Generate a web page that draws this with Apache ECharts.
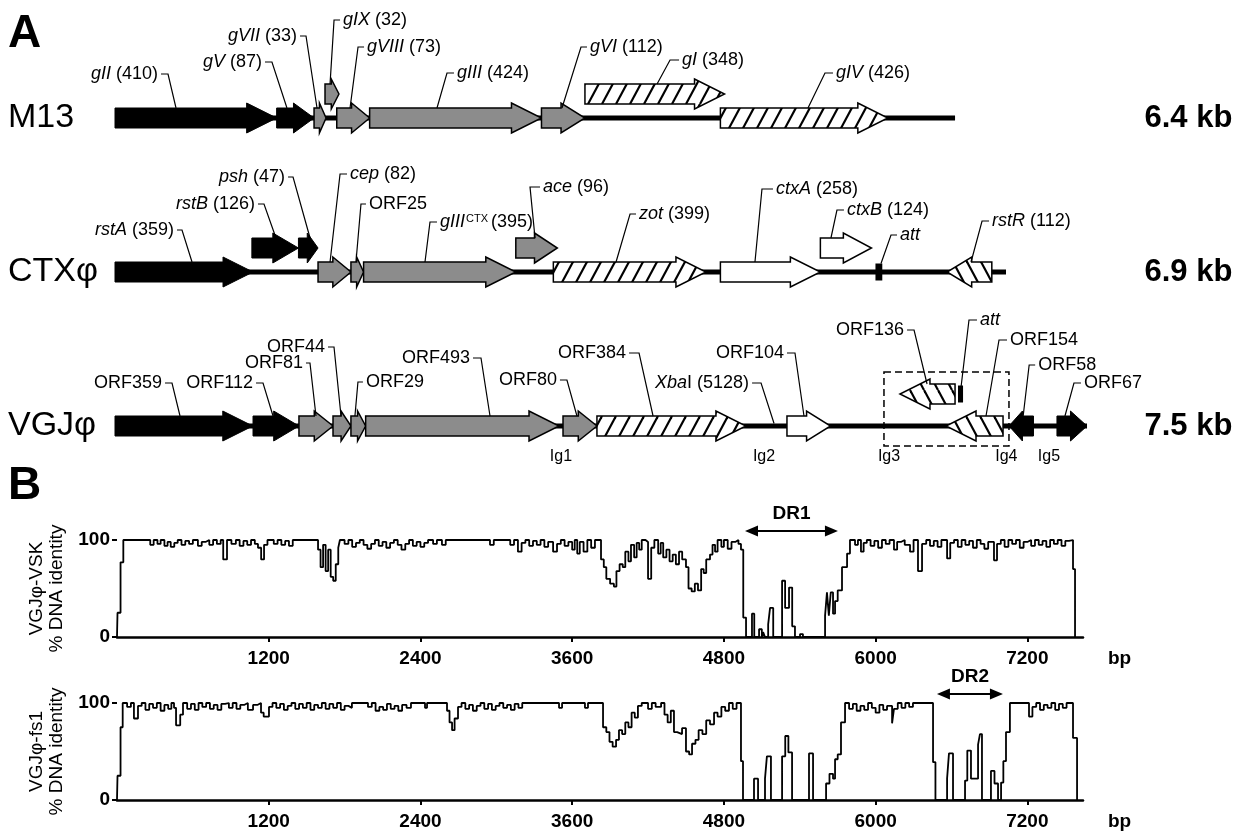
<!DOCTYPE html>
<html><head><meta charset="utf-8">
<script src="https://cdn.jsdelivr.net/npm/echarts@6/dist/echarts.min.js"></script>
<style>html,body{margin:0;padding:0;background:#fff}#c{width:1239px;height:835px}</style>
</head><body><div id="c"></div>
<script>
// ---------------- DATA ----------------
const tracks = ['M13', 'CTXφ', 'VGJφ'];
const trackSizes = ['6.4 kb', '6.9 kb', '7.5 kb'];
const backboneEnds = [6512, 6907, 7535];

// [name, startBp, endBp, strand, kind, lane(0 main / 1 raised)]
const m13Genes = [
  ['gII', 0, 1253, 1, 'black', 0],
  ['gV', 1253, 1543, 1, 'black', 0],
  ['gVII', 1543, 1636, 1, 'gray', 0],
  ['gIX', 1628, 1736, 1, 'gray', 1],
  ['gVIII', 1719, 1974, 1, 'gray', 0],
  ['gIII', 1974, 3306, 1, 'gray', 0],
  ['gVI', 3306, 3643, 1, 'gray', 0],
  ['gI', 3643, 4725, 1, 'hatch', 1],
  ['gIV', 4693, 5991, 1, 'hatch', 0]
];
const ctxGenes = [
  ['rstA', 0, 1070, 1, 'black', 0],
  ['rstB', 1061, 1422, 1, 'black', 1],
  ['psh', 1422, 1574, 1, 'black', 1],
  ['cep', 1574, 1829, 1, 'gray', 0],
  ['ORF25', 1829, 1927, 1, 'gray', 0],
  ['gIIICTX', 1927, 3107, 1, 'gray', 0],
  ['ace', 3107, 3429, 1, 'gray', 1],
  ['zot', 3398, 4581, 1, 'hatch', 0],
  ['ctxA', 4693, 5468, 1, 'white', 0],
  ['ctxB', 5468, 5864, 1, 'white', 1],
  ['att', 5895, 5948, 0, 'site', 0],
  ['rstR', 6450, 6797, -1, 'hatch', 0]
];
const vgjGenes = [
  ['ORF359', 0, 1068, 1, 'black', 0],
  ['ORF112', 1070, 1426, 1, 'black', 0],
  ['ORF81', 1426, 1690, 1, 'gray', 0],
  ['ORF44', 1690, 1829, 1, 'gray', 0],
  ['ORF29', 1829, 1943, 1, 'gray', 0],
  ['ORF493', 1943, 3442, 1, 'gray', 0],
  ['ORF80', 3473, 3736, 1, 'gray', 0],
  ['ORF384', 3736, 4891, 1, 'hatch', 0],
  ['ORF104', 5209, 5547, 1, 'white', 0],
  ['ORF136', 6085, 6512, -1, 'hatch', 1],
  ['att', 6535, 6574, 0, 'site', 1],
  ['ORF154', 6442, 6884, -1, 'hatch', 0],
  ['ORF58', 6930, 7120, -1, 'black', 0],
  ['ORF67', 7302, 7535, 1, 'black', 0]
];

// [label text, target bp, target type: g gene, r raised gene, l line, s site, rs raised site]
const m13Labels = [
  ['{i|gII} (410)', 473, 'g'], ['{i|gV} (87)', 1333, 'g'], ['{i|gVII} (33)', 1566, 'g'],
  ['{i|gIX} (32)', 1667, 'r'], ['{i|gVIII} (73)', 1822, 'g'], ['{i|gIII} (424)', 2496, 'g'],
  ['{i|gVI} (112)', 3465, 'g'], ['{i|gI} (348)', 4202, 'r'], ['{i|gIV} (426)', 5372, 'g']
];
const ctxLabels = [
  ['{i|rstA} (359)', 597, 'g'], ['{i|rstB} (126)', 1248, 'r'], ['{i|psh} (47)', 1512, 'r'],
  ['{i|cep} (82)', 1667, 'g'], ['ORF25', 1868, 'g'], ['{i|gIII}{sup|CTX}(395)', 2403, 'g'],
  ['{i|ace} (96)', 3256, 'r'], ['{i|zot} (399)', 3884, 'g'], ['{i|ctxA} (258)', 4961, 'g'],
  ['{i|ctxB} (124)', 5550, 'r'], ['{i|att}', 5938, 's'], ['{i|rstR} (112)', 6636, 'g']
];
const vgjLabels = [
  ['ORF359', 504, 'g'], ['ORF112', 1225, 'g'], ['ORF81', 1558, 'g'], ['ORF44', 1752, 'g'],
  ['ORF29', 1860, 'g'], ['ORF493', 2907, 'g'], ['ORF80', 3581, 'g'], ['ORF384', 4171, 'g'],
  ['{i|Xba}I (5128)', 5109, 'l'], ['ORF104', 5341, 'g'], ['ORF136', 6295, 'r'],
  ['{i|att}', 6558, 'rs'], ['ORF154', 6752, 'g'], ['ORF58', 7040, 'g'], ['ORF67', 7364, 'g']
];
const vgjIntergenic = [['Ig1', 3457], ['Ig2', 5031], ['Ig3', 6000], ['Ig4', 6910], ['Ig5', 7240]];
const vgjBoxBp = [5961, 6930];

const bpTicks = [1200, 2400, 3600, 4800, 6000, 7200];

// [bp, % identity] (step plot, value holds until next point)
const vskIdentity = [
  [0,0],[4,25],[28,77],[50,100],
  [263,95],[290,100],[320,96],[345,100],[375,94],[400,98],[425,93],[453,97],[480,100],[510,95],[540,99],[570,96],[600,100],[640,94],[670,98],[700,100],[730,95],[760,100],[790,96],[820,100],[840,80],[870,100],[905,96],[940,100],[970,94],[1000,99],[1030,95],[1060,100],[1090,96],[1115,92],[1140,80],[1163,95],[1190,100],[1240,96],[1270,100],[1300,95],[1330,99],[1360,94],[1390,100],
  [1590,90],[1610,72],[1630,95],[1650,68],[1670,90],[1690,62],[1710,58],[1730,75],[1750,92],[1763,100],
  [1800,96],[1830,100],[1860,93],[1890,97],[1920,100],[1950,95],[1980,91],[2010,96],[2040,100],[2070,94],[2100,98],[2130,92],[2160,97],[2190,100],[2220,95],[2250,90],[2280,96],[2310,100],[2340,94],[2370,98],[2400,93],[2430,97],[2460,100],[2500,96],[2530,100],[2570,95],[2600,100],
  [2950,95],[2980,100],
  [3110,95],[3140,100],[3171,88],[3200,97],[3230,100],[3260,94],[3290,99],[3320,95],[3350,100],[3380,93],[3410,98],[3449,88],[3480,96],[3510,100],[3540,94],[3570,98],[3600,90],[3620,100],[3640,86],[3660,98],[3690,88],[3720,100],[3750,92],[3780,100],[3828,80],
  [3850,72],[3870,60],[3900,55],[3930,52],[3950,68],[3975,75],[4000,72],[4020,88],[4045,78],[4065,95],[4090,82],[4110,97],[4130,90],[4150,100],[4180,98],[4200,60],[4225,92],[4250,100],[4280,86],[4300,97],[4320,82],[4345,90],[4370,78],[4395,85],[4420,75],[4445,88],[4470,80],[4500,72],[4520,50],[4545,47],[4570,55],[4595,48],[4620,70],[4640,66],[4660,80],[4690,85],[4710,95],[4730,88],[4750,100],[4780,93],[4800,100],[4830,91],[4860,98],[4890,100],[4915,96],[4935,90],
  [4953,20],[4975,0],[5022,24],[5040,0],[5078,8],[5100,0],[5110,5],[5125,0],[5150,13],[5165,30],[5190,0],[5260,58],[5284,30],[5315,51],[5340,11],[5362,0],[5402,3],[5425,0],[5600,22],[5615,46],[5630,22],[5645,46],[5663,24],[5679,37],[5700,48],[5734,72],[5774,86],[5797,100],
  [5837,95],[5860,100],[5884,88],[5905,97],[5930,100],[5960,94],[5990,99],[6020,92],[6050,100],[6080,96],[6110,100],[6145,90],[6170,98],[6200,100],[6230,95],[6272,88],[6300,100],[6335,68],[6367,96],[6400,100],[6430,94],[6460,99],[6490,93],[6520,100],[6565,81],[6590,97],[6620,100],[6650,93],[6680,100],[6710,95],[6740,99],[6770,92],[6800,100],[6830,96],[6860,91],[6890,98],[6936,79],[6960,96],[6990,100],[7020,93],[7050,100],[7080,96],[7110,100],[7140,92],[7170,98],[7200,100],[7230,94],[7260,100],[7290,95],[7320,99],[7350,93],[7380,100],[7410,96],[7440,100],[7470,94],[7500,99],[7530,100],[7561,70],[7577,0]
];
const fs1Identity = [
  [0,0],[4,25],[28,75],[45,100],[80,96],[110,100],[134,84],[166,97],[195,100],[225,93],[255,99],[285,95],[315,100],[345,92],[375,98],[405,94],[430,100],[451,95],[467,77],[500,88],[522,100],[555,94],[585,99],[615,93],[645,100],[675,96],[705,100],[735,94],[765,98],[795,93],[825,99],[855,100],[885,95],[915,100],[945,94],[975,98],[1005,100],[1035,93],[1076,98],[1110,100],[1139,90],[1160,86],[1202,96],[1230,100],[1260,95],[1290,99],[1320,93],[1350,97],[1380,100],[1410,94],[1440,99],[1470,95],[1500,100],[1530,93],[1560,98],[1590,95],[1620,100],[1650,94],[1680,99],[1710,95],[1740,100],[1770,93],[1800,97],[1830,95],[1858,100],
  [1985,96],[2015,100],[2045,92],[2075,96],[2105,93],[2135,99],[2165,94],[2195,97],[2225,92],[2255,98],[2290,95],[2325,100],[2436,95],[2452,100],
  [2610,92],[2630,80],[2650,72],[2670,84],[2697,96],[2725,100],[2755,94],[2785,98],[2815,92],[2845,97],[2875,100],[2905,94],[2935,99],[2965,93],[2995,97],[3025,100],[3055,95],[3085,98],[3115,93],[3145,99],[3175,95],[3205,100],[3496,95],[3520,100],[3701,95],[3725,100],
  [3844,75],[3870,70],[3895,60],[3920,55],[3947,62],[3970,72],[3995,68],[4020,80],[4045,75],[4070,90],[4095,85],[4120,97],[4150,100],[4200,94],[4230,100],[4260,96],[4303,100],[4330,88],[4355,80],[4380,92],[4405,70],[4430,68],[4469,74],[4500,50],[4525,47],[4548,58],[4575,62],[4600,72],[4630,68],[4660,82],[4690,78],[4722,90],[4750,86],[4780,96],[4810,92],[4840,100],[4870,94],[4900,100],[4935,40],
  [4951,0],[5038,22],[5070,0],[5125,22],[5140,45],[5172,0],[5260,45],[5285,66],[5310,49],[5339,0],[5473,48],[5505,0],[5608,17],[5635,27],[5663,22],[5679,42],[5700,47],[5726,80],
  [5758,100],[5790,94],[5820,99],[5850,92],[5880,97],[5910,93],[5940,100],[5970,95],[6000,90],[6030,98],[6060,93],[6090,97],[6130,79],[6145,94],[6175,100],[6205,95],[6235,100],[6265,96],[6295,100],
  [6454,39],[6473,0],[6565,22],[6580,48],[6612,0],[6707,20],[6725,51],[6754,22],[6810,57],[6825,68],[6841,0],[6912,30],[6940,17],[6968,0],[6992,18],[7010,40],[7031,70],
  [7062,100],[7213,86],[7240,96],[7270,100],[7300,93],[7330,98],[7360,95],[7390,100],[7420,93],[7450,99],[7480,95],[7510,100],[7561,64],[7593,0]
];
const drRegions = [['DR1', 4967, 5702], ['DR2', 6485, 7007]];

// ---------------- LAYOUT / STYLE ----------------
const FONT = '"Liberation Sans", Arial, Helvetica, sans-serif';
const BODY_H = 20, HEAD_H = 30, HEAD_MAX = 30, LINE_W = 5, SITE_H = 17;
const RAISE = [24, 24, 32];
// per label: [textDx, elbowDx, dy, side]  (px, relative to leader target and row centre)
const m13Layout = [[-18,-8,-44,'L'],[-25,-15,-56,'L'],[-20,-11,-82,'L'],[13,4,-98,'R'],[17,8,-71,'R'],[20,10,-45,'R'],[28,19,-71,'R'],[25,13,-58,'R'],[28,17,-45,'R']];
const ctxLayout = [[-18,-10,-42,'L'],[-21,-12,-68,'L'],[-25,-17,-95,'L'],[20,10,-98,'R'],[13,5,-68,'R'],[15,5,-50,'R'],[8,-5,-85,'R'],[23,14,-58,'R'],[21,7,-83,'R'],[16,6,-62,'R'],[19,10,-37,'R'],[21,11,-51,'R']];
const vgjLayout = [[-18,-8,-43,'L'],[-20,-10,-43,'L'],[-13,-6,-63,'L'],[-16,-7,-79,'L'],[11,3,-44,'R'],[-20,-9,-68,'L'],[-20,-10,-46,'L'],[-27,-14,-73,'L'],[-25,-13,-43,'L'],[-20,-9,-73,'L'],[-23,-13,-96,'L'],[19,8,-106,'R'],[24,13,-86,'R'],[15,6,-61,'R'],[19,9,-43,'R']];
const IG_DY = 31, BOX_TOP = -54, BOX_BOTTOM = 20;

function makeHatch(dir) {
  const w = 14, h = 26;
  const c = document.createElement('canvas'); c.width = w; c.height = h;
  const g = c.getContext('2d');
  g.fillStyle = '#fff'; g.fillRect(0, 0, w, h);
  g.strokeStyle = '#000'; g.lineWidth = 2.2;
  for (let k = -1; k <= 1; k++) {
    g.beginPath();
    if (dir > 0) { g.moveTo(k * w, h); g.lineTo(k * w + w, 0); }
    else { g.moveTo(k * w, 0); g.lineTo(k * w + w, h); }
    g.stroke();
  }
  return c;
}
const hatchR = { image: makeHatch(1), repeat: 'repeat' };
const hatchL = { image: makeHatch(-1), repeat: 'repeat' };

const geneSets = [m13Genes, ctxGenes, vgjGenes];
const labelSets = [m13Labels, ctxLabels, vgjLabels];
const layoutSets = [m13Layout, ctxLayout, vgjLayout];

const allGenes = [];
geneSets.forEach((set, row) => set.forEach(g => allGenes.push({ row, g })));
const allLabels = [];
labelSets.forEach((set, row) => set.forEach((l, i) => allLabels.push({ row, l, lay: layoutSets[row][i] })));

const RICH = {
  i: { fontStyle: 'italic', fontSize: 18, fontFamily: FONT, fill: '#000' },
  sup: { fontSize: 11, fontFamily: FONT, fill: '#000', verticalAlign: 'top', padding: [0, 3, 0, 1] }
};

function arrowPoints(x0, x1, y, dir) {
  const bh = BODY_H / 2, hh = HEAD_H / 2;
  const head = Math.min(HEAD_MAX, (x1 - x0) * 0.55);
  if (dir >= 0) {
    const xh = x1 - head;
    return [[x0, y - bh], [xh, y - bh], [xh, y - hh], [x1, y], [xh, y + hh], [xh, y + bh], [x0, y + bh]];
  }
  const xh = x0 + head;
  return [[x1, y - bh], [xh, y - bh], [xh, y - hh], [x0, y], [xh, y + hh], [xh, y + bh], [x1, y + bh]];
}

const chart = echarts.init(document.getElementById('c'), null, { renderer: 'canvas' });

const plotYAxis = (gi, nameText) => ({
  gridIndex: gi, type: 'value', min: 0, max: 100, interval: 100,
  axisLine: { show: false }, splitLine: { show: false },
  axisTick: { show: true, length: 5, lineStyle: { color: '#000', width: 2 } },
  axisLabel: { color: '#000', fontWeight: 'bold', fontSize: 19, fontFamily: FONT, margin: 7 },
  name: nameText, nameLocation: 'middle', nameRotate: 90, nameGap: 50,
  nameTextStyle: { color: '#000', fontSize: 19, fontFamily: FONT, lineHeight: 20 }
});
const plotXAxis = (gi) => ({
  gridIndex: gi, type: 'value', min: 0, max: 7640,
  axisLine: { show: true, lineStyle: { color: '#000', width: 2.5 } },
  axisTick: { show: true, length: 5, customValues: bpTicks, lineStyle: { color: '#000', width: 2 } },
  axisLabel: { customValues: bpTicks, formatter: v => String(v), color: '#000', fontWeight: 'bold', fontSize: 19, fontFamily: FONT, margin: 12 },
  splitLine: { show: false },
  name: 'bp', nameLocation: 'end', nameGap: 25,
  nameTextStyle: { color: '#000', fontWeight: 'bold', fontSize: 19, fontFamily: FONT, verticalAlign: 'top', padding: [12, 0, 0, 0] }
});

function drSeries(axisIdx, yIdx, idx) {
  return {
    type: 'custom', xAxisIndex: axisIdx, yAxisIndex: yIdx, clip: false, silent: true,
    data: [[drRegions[idx][1], 100, drRegions[idx][2]]],
    encode: { x: [0, 2], y: 1 },
    renderItem(params, api) {
      const a = api.coord([api.value(0), 100]);
      const b = api.coord([api.value(2), 100]);
      const y = a[1] - 9, hl = 13, hw = 5.5;
      return { type: 'group', children: [
        { type: 'line', shape: { x1: a[0] + hl - 1, y1: y, x2: b[0] - hl + 1, y2: y }, style: { stroke: '#000', lineWidth: 2 } },
        { type: 'polygon', shape: { points: [[a[0], y], [a[0] + hl, y - hw], [a[0] + hl, y + hw]] }, style: { fill: '#000' } },
        { type: 'polygon', shape: { points: [[b[0], y], [b[0] - hl, y - hw], [b[0] - hl, y + hw]] }, style: { fill: '#000' } },
        { type: 'text', style: { x: (a[0] + b[0]) / 2, y: y - 17, text: drRegions[idx][0], align: 'center', verticalAlign: 'middle', font: 'bold 19px ' + FONT, fill: '#000' } }
      ] };
    }
  };
}

const option = {
  animation: false,
  backgroundColor: '#fff',
  graphic: [
    { type: 'text', style: { x: 8, y: 34, text: 'A', font: 'bold 46px ' + FONT, fill: '#000', verticalAlign: 'middle' } },
    { type: 'text', style: { x: 8, y: 486, text: 'B', font: 'bold 46px ' + FONT, fill: '#000', verticalAlign: 'middle' } }
  ],
  grid: [
    { left: 115, top: 41, width: 980.4, height: 462 },
    { left: 117, top: 540, width: 966, height: 97 },
    { left: 117, top: 703, width: 966, height: 97 }
  ],
  xAxis: [
    { gridIndex: 0, type: 'value', min: 0, max: 7600, show: false },
    plotXAxis(1), plotXAxis(2)
  ],
  yAxis: [
    { gridIndex: 0, type: 'category', data: tracks, inverse: true,
      axisLine: { show: false }, axisTick: { show: false },
      axisLabel: { color: '#000', fontSize: 34, fontFamily: FONT, align: 'left', margin: 107 } },
    { gridIndex: 0, type: 'category', data: tracks, inverse: true, position: 'right',
      axisLine: { show: false }, axisTick: { show: false },
      axisLabel: { color: '#000', fontSize: 31, fontWeight: 'bold', fontFamily: FONT, align: 'right', margin: 137,
        formatter: (v, i) => trackSizes[i] } },
    plotYAxis(1, 'VGJφ-VSK\n% DNA identity'),
    plotYAxis(2, 'VGJφ-fs1\n% DNA identity')
  ],
  series: [
    { // backbones
      type: 'custom', xAxisIndex: 0, yAxisIndex: 0, clip: false, silent: true,
      data: backboneEnds.map((e, row) => [0, row, e]),
      encode: { x: [0, 2], y: 1 },
      renderItem(params, api) {
        const a = api.coord([api.value(0), api.value(1)]);
        const b = api.coord([api.value(2), api.value(1)]);
        return { type: 'rect', shape: { x: a[0], y: a[1] - LINE_W / 2, width: b[0] - a[0], height: LINE_W }, style: { fill: '#000' } };
      }
    },
    { // genes
      type: 'custom', xAxisIndex: 0, yAxisIndex: 0, clip: false, silent: true,
      data: allGenes.map(o => [o.g[1], o.row, o.g[2]]),
      encode: { x: [0, 2], y: 1 },
      renderItem(params, api) {
        const o = allGenes[params.dataIndex];
        const [name, s, e, strand, kind, lane] = o.g;
        const a = api.coord([s, o.row]);
        const b = api.coord([e, o.row]);
        const y = a[1] - (lane ? RAISE[o.row] : 0);
        if (kind === 'site') {
          return { type: 'rect', shape: { x: a[0], y: y - SITE_H / 2, width: b[0] - a[0], height: SITE_H }, style: { fill: '#000' } };
        }
        let fill = '#000';
        if (kind === 'gray') fill = '#8c8c8c';
        else if (kind === 'white') fill = '#fff';
        else if (kind === 'hatch') fill = strand < 0 ? hatchL : hatchR;
        return { type: 'polygon', shape: { points: arrowPoints(a[0], b[0], y, strand) },
          style: { fill, stroke: '#000', lineWidth: kind === 'black' ? 1 : 1.5, lineJoin: 'miter' } };
      }
    },
    { // dashed box around att region
      type: 'custom', xAxisIndex: 0, yAxisIndex: 0, clip: false, silent: true,
      data: [[vgjBoxBp[0], 2, vgjBoxBp[1]]],
      encode: { x: [0, 2], y: 1 },
      renderItem(params, api) {
        const a = api.coord([api.value(0), 2]);
        const b = api.coord([api.value(2), 2]);
        return { type: 'rect', shape: { x: a[0], y: a[1] + BOX_TOP, width: b[0] - a[0], height: BOX_BOTTOM - BOX_TOP },
          style: { fill: null, stroke: '#000', lineWidth: 1.5, lineDash: [7, 4] } };
      }
    },
    { // labels with leaders
      type: 'custom', xAxisIndex: 0, yAxisIndex: 0, clip: false, silent: true,
      data: allLabels.map(o => [o.l[1], o.row]),
      encode: { x: 0, y: 1 },
      renderItem(params, api) {
        const o = allLabels[params.dataIndex];
        const p = api.coord([o.l[1], o.row]);
        const rowY = p[1], tx = p[0];
        const t = o.l[2];
        let topY = rowY - BODY_H / 2;
        if (t === 'r') topY = rowY - RAISE[o.row] - BODY_H / 2;
        else if (t === 'l') topY = rowY - LINE_W / 2;
        else if (t === 's') topY = rowY - SITE_H / 2;
        else if (t === 'rs') topY = rowY - RAISE[o.row] - SITE_H / 2 + 2;
        const [tdx, edx, dy, side] = o.lay;
        const ty = rowY + dy, textX = tx + tdx, ex = tx + edx;
        const stub = side === 'L' ? textX + 3 : textX - 3;
        return { type: 'group', children: [
          { type: 'polyline', shape: { points: [[stub, ty], [ex, ty], [tx, topY]] }, style: { stroke: '#000', lineWidth: 1.2, fill: null } },
          { type: 'text', style: { x: textX, y: ty, text: o.l[0], align: side === 'L' ? 'right' : 'left', verticalAlign: 'middle',
            fontSize: 18, fontFamily: FONT, fill: '#000', rich: RICH } }
        ] };
      }
    },
    { // intergenic labels
      type: 'custom', xAxisIndex: 0, yAxisIndex: 0, clip: false, silent: true,
      data: vgjIntergenic.map(d => [d[1], 2]),
      encode: { x: 0, y: 1 },
      renderItem(params, api) {
        const p = api.coord([api.value(0), 2]);
        return { type: 'text', style: { x: p[0], y: p[1] + IG_DY, text: vgjIntergenic[params.dataIndex][0], align: 'center', verticalAlign: 'middle',
          font: '16px ' + FONT, fill: '#000' } };
      }
    },
    { type: 'line', xAxisIndex: 1, yAxisIndex: 2, data: vskIdentity, step: 'end', showSymbol: false, symbol: 'none', clip: false,
      lineStyle: { color: '#000', width: 1.8 }, silent: true },
    { type: 'line', xAxisIndex: 2, yAxisIndex: 3, data: fs1Identity, step: 'end', showSymbol: false, symbol: 'none', clip: false,
      lineStyle: { color: '#000', width: 1.8 }, silent: true },
    drSeries(1, 2, 0),
    drSeries(2, 3, 1)
  ]
};
chart.setOption(option);
</script>
</body></html>
